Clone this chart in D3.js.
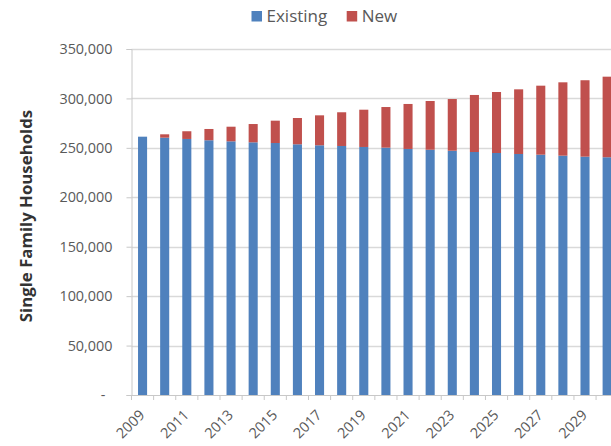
<!DOCTYPE html>
<html>
<head>
<meta charset="utf-8">
<script src="https://cdn.jsdelivr.net/npm/d3@7"></script>
<style>
  html, body { margin: 0; padding: 0; background: #fff; overflow: hidden; }
  svg { display: block; }
</style>
</head>
<body>
<svg id="chart" width="611" height="446"></svg>
<script>
// ---- data ----
const years = ["2009","2010","2011","2012","2013","2014","2015","2016","2017","2018","2019",
               "2020","2021","2022","2023","2024","2025","2026","2027","2028","2029","2030"];
const existing = [261300, 260300, 259000, 257700, 256600, 255600, 254900, 253600, 252600, 251900, 250900,
                  250200, 248900, 248100, 247100, 245800, 244800, 243800, 243100, 242100, 241100, 240500];
const newHomes = [0, 3400, 7800, 11400, 14800, 18500, 22600, 26600, 30300, 34100, 37700,
                  41100, 45500, 49300, 52300, 57700, 61700, 65400, 69800, 74200, 77300, 81500];
const yTicks = [0, 50000, 100000, 150000, 200000, 250000, 300000, 350000];
const xLabels = ["2009","2011","2013","2015","2017","2019","2021","2023","2025","2027","2029"];
const seriesNames = ["Existing", "New"];
const seriesColors = ["#4F81BD", "#C0504D"];

// ---- layout ----
const svg = d3.select("#chart");
const plotLeft = 131.5, plotRight = 618.2, plotTop = 49, plotBottom = 395;
const font = "'Open Sans', 'Liberation Sans', sans-serif";

const x = d3.scaleBand().domain(years).range([plotLeft, plotRight])
  .paddingInner(0.59).paddingOuter(0.295);
const y = d3.scaleLinear().domain([0, 350000]).range([plotBottom, plotTop]);

const rows = years.map((yr, i) => ({ year: yr, Existing: existing[i], New: newHomes[i] }));
const stacked = d3.stack().keys(seriesNames)(rows);

// gridlines
svg.append("g").selectAll("line").data(yTicks.filter(d => d > 0)).join("line")
  .attr("x1", plotLeft).attr("x2", 611)
  .attr("y1", d => Math.round(y(d)) + 0.5).attr("y2", d => Math.round(y(d)) + 0.5)
  .attr("stroke", "#d9d9d9").attr("stroke-width", 1.3);

// y axis
const yAxis = d3.axisLeft(y).tickValues(yTicks).tickSize(5).tickPadding(14)
  .tickFormat(d => d === 0 ? "-" : d3.format(",")(d));
const gy = svg.append("g").attr("transform", `translate(${plotLeft},0)`).call(yAxis);
gy.select(".domain").attr("stroke", "#c8c8c8");
gy.selectAll(".tick line").attr("stroke", "#c8c8c8");
gy.selectAll(".tick text").attr("fill", "#595959").attr("font-family", font).attr("font-size", "14.4px");
gy.selectAll(".tick text").filter(d => d === 0).attr("dx", "-7");

// x axis (ticks at category boundaries)
const step = x.step();
const boundaries = d3.range(years.length + 1).map(i => plotLeft + i * step);
svg.append("line").attr("x1", plotLeft).attr("x2", 611)
  .attr("y1", plotBottom + 0.5).attr("y2", plotBottom + 0.5).attr("stroke", "#c8c8c8");
svg.append("g").selectAll("line").data(boundaries).join("line")
  .attr("x1", d => d).attr("x2", d => d)
  .attr("y1", plotBottom).attr("y2", plotBottom + 5).attr("stroke", "#c8c8c8");

// bars
svg.append("g").selectAll("g").data(stacked).join("g")
  .attr("fill", (d, i) => seriesColors[i])
  .selectAll("rect").data(d => d).join("rect")
  .attr("x", d => x(d.data.year))
  .attr("width", x.bandwidth())
  .attr("y", d => y(d[1]))
  .attr("height", d => Math.max(0, y(d[0]) - y(d[1])));

// x labels
svg.append("g").selectAll("text").data(xLabels).join("text")
  .attr("transform", d => `translate(${x(d) + x.bandwidth() / 2 + 3},416) rotate(-45)`)
  .attr("text-anchor", "end")
  .attr("fill", "#595959").attr("font-family", font).attr("font-size", "14.4px")
  .text(d => d);

// y title
svg.append("text")
  .attr("transform", "translate(32,216) rotate(-90)")
  .attr("text-anchor", "middle")
  .attr("fill", "#333").attr("font-family", font).attr("font-weight", "bold").attr("font-size", "16.8px")
  .text("Single Family Households");

// legend
const legend = svg.append("g");
const legX = [251.5, 346.7];
seriesNames.forEach((name, i) => {
  legend.append("rect").attr("x", legX[i]).attr("y", 11).attr("width", 10.5).attr("height", 10.5)
    .attr("fill", seriesColors[i]);
  legend.append("text").attr("x", legX[i] + 15).attr("y", 22)
    .attr("fill", "#595959").attr("font-family", font).attr("font-size", "17px")
    .text(name);
});
</script>
</body>
</html>
